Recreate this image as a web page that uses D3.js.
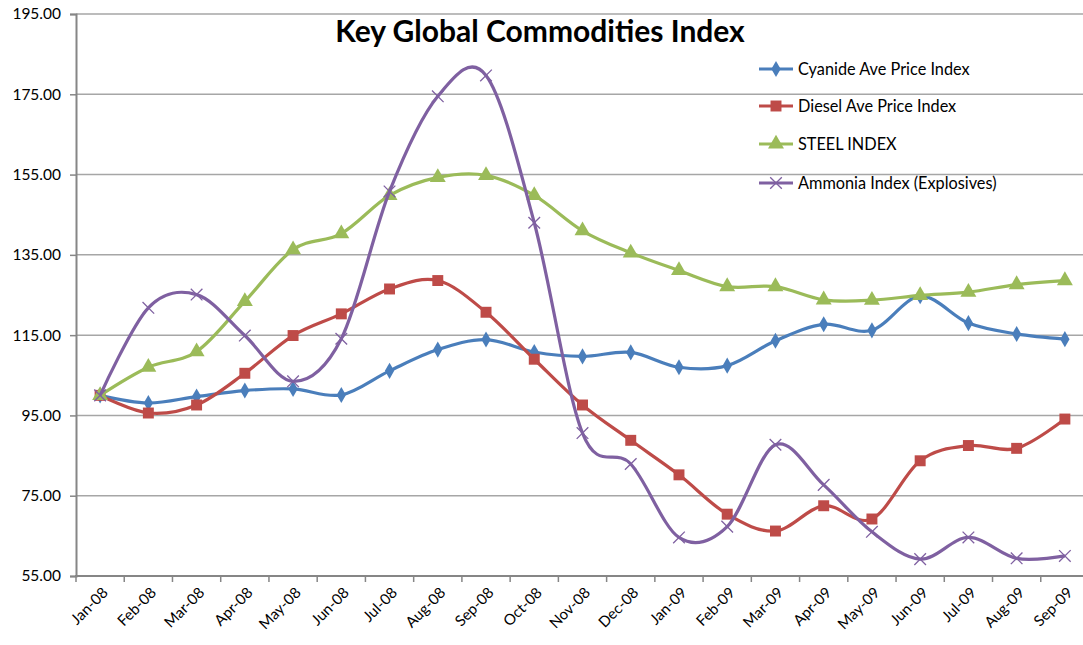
<!DOCTYPE html>
<html>
<head>
<meta charset="utf-8">
<script src="https://cdn.jsdelivr.net/npm/d3@7"></script>
<style>
  html, body { margin: 0; padding: 0; background: #fff; }
  svg { display: block; font-family: Lato, "Open Sans", sans-serif; }
</style>
</head>
<body>
<svg id="chart"></svg>
<script>
// data
const months = ['Jan-08', 'Feb-08', 'Mar-08', 'Apr-08', 'May-08', 'Jun-08', 'Jul-08', 'Aug-08', 'Sep-08', 'Oct-08',
  'Nov-08', 'Dec-08', 'Jan-09', 'Feb-09', 'Mar-09', 'Apr-09', 'May-09', 'Jun-09', 'Jul-09', 'Aug-09', 'Sep-09'];
const cyanide = [100, 98.1, 99.7, 101.2, 101.6, 100.1, 106.1, 111.4, 113.9, 110.8, 109.7, 110.7, 107.0, 107.4,
  113.6, 117.7, 116.2, 124.7, 118.0, 115.3, 114.0];
const diesel = [100, 95.6, 97.6, 105.5, 114.9, 120.3, 126.5, 128.6, 120.7, 109.0, 97.6, 88.8, 80.2, 70.4,
  66.2, 72.5, 69.2, 83.7, 87.5, 86.8, 94.1];
const steel = [100, 107.0, 110.9, 123.4, 136.3, 140.3, 149.8, 154.3, 154.8, 149.8, 141.0, 135.5, 131.1, 127.1,
  127.1, 123.8, 123.7, 124.9, 125.7, 127.6, 128.6];
const ammonia = [100, 121.8, 125.1, 114.9, 103.5, 114.1, 150.8, 174.5, 179.7, 143.0, 90.6, 82.9, 64.6, 67.3,
  87.7, 77.7, 66.0, 59.2, 64.6, 59.4, 60.0];
const yTicks = [55, 75, 95, 115, 135, 155, 175, 195];

const series = [
  { name: 'Cyanide Ave Price Index', values: cyanide, color: '#4A7EBB', marker: 'diamond' },
  { name: 'Diesel Ave Price Index', values: diesel, color: '#BE4B48', marker: 'square' },
  { name: 'STEEL INDEX', values: steel, color: '#9BBB59', marker: 'triangle' },
  { name: 'Ammonia Index (Explosives)', values: ammonia, color: '#7F60A1', marker: 'cross' }
];

const W = 1083, H = 645;
const svg = d3.select('#chart').attr('width', W).attr('height', H);

const x = d3.scaleBand().domain(months).range([76, 1089]).paddingInner(0).paddingOuter(0);
const cx = d => x(d) + x.bandwidth() / 2;
const y = d3.scaleLinear().domain([55, 195]).range([576, 14]);

// gridlines
svg.append('g')
  .selectAll('line')
  .data(yTicks.slice(1))
  .enter().append('line')
  .attr('x1', 76).attr('x2', W)
  .attr('y1', d => y(d)).attr('y2', d => y(d))
  .attr('stroke', '#a6a6a6')
  .attr('stroke-width', 1.5);

// y axis
const yAxis = svg.append('g')
  .attr('transform', 'translate(76,0)')
  .call(d3.axisLeft(y).tickValues(yTicks).tickFormat(d3.format('.2f')).tickSize(6).tickPadding(9));
yAxis.select('.domain').attr('stroke', '#868686').attr('stroke-width', 2);
yAxis.selectAll('.tick line').attr('stroke', '#868686').attr('stroke-width', 1.5);
yAxis.selectAll('text').attr('font-size', 15.5).attr('fill', '#000').attr('font-family', 'Lato, sans-serif');

// x axis: tick marks between categories
const xg = svg.append('g');
xg.append('line')
  .attr('x1', 75).attr('x2', W)
  .attr('y1', 576).attr('y2', 576)
  .attr('stroke', '#868686').attr('stroke-width', 2);
xg.selectAll('.xtick')
  .data(months)
  .enter().append('line')
  .attr('class', 'xtick')
  .attr('x1', d => x(d)).attr('x2', d => x(d))
  .attr('y1', 576).attr('y2', 582)
  .attr('stroke', '#868686').attr('stroke-width', 1.5);
xg.selectAll('.xlabel')
  .data(months)
  .enter().append('text')
  .attr('class', 'xlabel')
  .attr('transform', d => `translate(${cx(d) + 5},${590}) rotate(-45)`)
  .attr('text-anchor', 'end')
  .attr('dy', '0.35em')
  .attr('font-size', 15)
  .text(d => d);

// lines
const line = d3.line()
  .x((d, i) => cx(months[i]))
  .y(d => y(d))
  .curve(d3.curveCatmullRom.alpha(0));

const symbolFor = {
  diamond: d3.symbol().type(d3.symbolDiamond).size(75),
  square: d3.symbol().type(d3.symbolSquare).size(120),
  triangle: d3.symbol().type(d3.symbolTriangle).size(110),
  cross: d3.symbol().type(d3.symbolX).size(90)
};

function drawMarker(g, s, px, py) {
  const p = g.append('path')
    .attr('d', symbolFor[s.marker]())
    .attr('transform', `translate(${px},${py})`);
  if (s.marker === 'cross') {
    p.attr('fill', 'none').attr('stroke', s.color).attr('stroke-width', 1.3);
  } else {
    p.attr('fill', s.color).attr('stroke', 'none');
  }
}

series.forEach(s => {
  const g = svg.append('g');
  g.append('path')
    .datum(s.values)
    .attr('d', line)
    .attr('fill', 'none')
    .attr('stroke', s.color)
    .attr('stroke-width', 3.2)
    .attr('stroke-linejoin', 'round');
  s.values.forEach((v, i) => drawMarker(g, s, cx(months[i]), y(v)));
});

// title
svg.append('text')
  .attr('x', 540).attr('y', 42)
  .attr('text-anchor', 'middle')
  .attr('font-size', 30)
  .attr('font-weight', 'bold')
  .text('Key Global Commodities Index');

// legend
const legendY = [69, 106, 144, 183];
const lg = svg.append('g');
series.forEach((s, i) => {
  const ly = legendY[i];
  lg.append('line')
    .attr('x1', 759).attr('x2', 793)
    .attr('y1', ly).attr('y2', ly)
    .attr('stroke', s.color).attr('stroke-width', 3.2);
  drawMarker(lg, s, 776, ly);
  lg.append('text')
    .attr('x', 798).attr('y', ly)
    .attr('dy', '0.35em')
    .attr('font-size', 16.3)
    .text(s.name);
});
</script>
</body>
</html>
